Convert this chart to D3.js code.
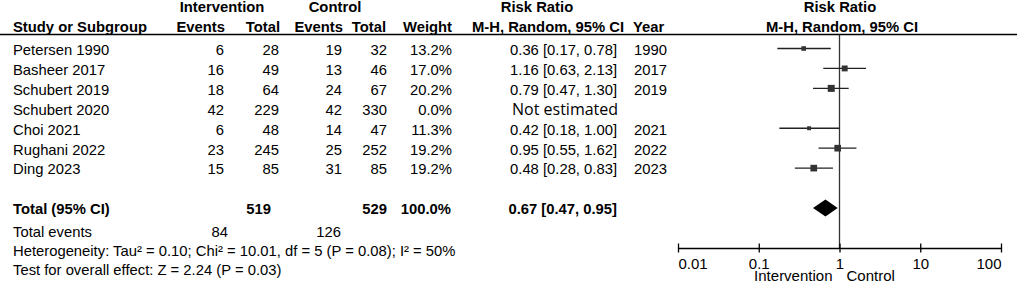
<!DOCTYPE html>
<html><head><meta charset="utf-8">
<script src="https://cdn.jsdelivr.net/npm/d3@7"></script>
<style>
body{margin:0;background:#fff;}
svg{display:block;font-family:"Liberation Sans",Arial,sans-serif;}
</style></head>
<body><svg id="c" width="1017" height="287"></svg>
<script>
const studies = ["Petersen 1990","Basheer 2017","Schubert 2019","Schubert 2020","Choi 2021","Rughani 2022","Ding 2023"];
const intEvents = [6,16,18,42,6,23,15];
const intTotal = [28,49,64,229,48,245,85];
const ctlEvents = [19,13,24,42,14,25,31];
const ctlTotal = [32,46,67,330,47,252,85];
const weights = [13.2,17.0,20.2,0.0,11.3,19.2,19.2];
const rr = [0.36,1.16,0.79,null,0.42,0.95,0.48];
const lo = [0.17,0.63,0.47,null,0.18,0.55,0.28];
const hi = [0.78,2.13,1.30,null,1.00,1.62,0.83];
const years = ["1990","2017","2019","","2021","2022","2023"];
const totalRow = {intTotal:519, ctlTotal:529, weight:"100.0%", rr:0.67, lo:0.47, hi:0.95};
const totalEvents = {intEvents:84, ctlEvents:126};
const heterogeneity = "Heterogeneity: Tau\u00b2 = 0.10; Chi\u00b2 = 10.01, df = 5 (P = 0.08); I\u00b2 = 50%";
const overallTest = "Test for overall effect: Z = 2.24 (P = 0.03)";
const tickValues = [0.01,0.1,1,10,100];
const tickLabels = ["0.01","0.1","1","10","100"];

const svg = d3.select("#c");
const FS = 14.8;
const x = d3.scaleLog().domain([0.01,100]).range([678,1001]);
const y = d3.scaleLinear().domain([0,8]).range([49.5,209]);
const sq = d3.scaleLinear().domain([0,20.2]).range([0,7]);
const f2 = d3.format(".2f");
const ciText = (a,b,c)=> `${f2(a)} [${f2(b)}, ${f2(c)}]`;

function txt(xp, yc, s, anchor, bold, size){
  return svg.append("text").attr("x",xp).attr("y",yc).attr("dy","0.36em")
    .attr("text-anchor",anchor||"start").attr("font-size",size||FS)
    .attr("font-weight",bold?"bold":"normal").attr("fill","#000").text(s);
}

// headers
txt(222,7,"Intervention","middle",true);
txt(335,7,"Control","middle",true);
txt(537,7,"Risk Ratio","middle",true);
txt(840,7,"Risk Ratio","middle",true);
txt(13,27,"Study or Subgroup","start",true);
txt(225,27,"Events","end",true);
txt(280,27,"Total","end",true);
txt(343,27,"Events","end",true);
txt(386,27,"Total","end",true);
txt(452,27,"Weight","end",true);
txt(472,27,"M-H, Random, 95% CI","start",true);
txt(633,27,"Year","start",true);
txt(842,27,"M-H, Random, 95% CI","middle",true);
svg.append("line").attr("x1",0).attr("x2",1017).attr("y1",34.5).attr("y2",34.5)
  .attr("stroke","#000").attr("stroke-width",1.5);

// study rows
studies.forEach((s,i)=>{
  const yc = y(i);
  txt(13,yc,s);
  txt(224,yc,intEvents[i],"end");
  txt(279,yc,intTotal[i],"end");
  txt(342,yc,ctlEvents[i],"end");
  txt(387,yc,ctlTotal[i],"end");
  txt(452,yc,weights[i].toFixed(1)+"%","end");
  if(rr[i]==null){
    svg.append("text").attr("x",512).attr("y",yc).attr("dy","0.36em")
      .attr("font-family","'Open Sans','Noto Sans',sans-serif").attr("font-size",16).text("Not estimated");
  } else {
    txt(617,yc,ciText(rr[i],lo[i],hi[i]),"end");
    txt(634,yc,years[i],"start");
  }
});

// totals
const yt = y(8);
txt(13,yt,"Total (95% CI)","start",true);
txt(271,yt,totalRow.intTotal,"end",true);
txt(387,yt,totalRow.ctlTotal,"end",true);
txt(451,yt,totalRow.weight,"end",true);
txt(617,yt,ciText(totalRow.rr,totalRow.lo,totalRow.hi),"end",true);
txt(13,232,"Total events");
txt(228,232,totalEvents.intEvents,"end");
txt(341,232,totalEvents.ctlEvents,"end");
txt(13,251,heterogeneity);
txt(13,270,overallTest);

// forest plot
const axisY = 248;
svg.append("line").attr("x1",x(1)).attr("x2",x(1)).attr("y1",34.5).attr("y2",axisY)
  .attr("stroke","#333").attr("stroke-width",1.3);

const plotIdx = studies.map((s,i)=>i).filter(i=>rr[i]!=null);
svg.append("g").selectAll("line").data(plotIdx).join("line")
  .attr("x1",i=>x(lo[i])).attr("x2",i=>x(hi[i]))
  .attr("y1",i=>y(i)-1).attr("y2",i=>y(i)-1)
  .attr("stroke","#222").attr("stroke-width",1.3);
svg.append("g").selectAll("rect").data(plotIdx).join("rect")
  .attr("x",i=>x(rr[i])-sq(weights[i])/2).attr("y",i=>y(i)-1-sq(weights[i])/2)
  .attr("width",i=>sq(weights[i])).attr("height",i=>sq(weights[i]))
  .attr("fill","#333");

// diamond
const dh = 8.5;
svg.append("path")
  .attr("d",`M${x(totalRow.lo)},${yt-1}L${x(totalRow.rr)},${yt-1-dh}L${x(totalRow.hi)},${yt-1}L${x(totalRow.rr)},${yt-1+dh}Z`)
  .attr("fill","#000");

// axis
const axis = d3.axisBottom(x).tickValues(tickValues)
  .tickFormat((d,i)=>tickLabels[i]).tickSizeOuter(0).tickSizeInner(4.5).tickPadding(5.5);
const ag = svg.append("g").attr("transform",`translate(0,${axisY})`).call(axis);
ag.select(".domain").attr("stroke","#000").attr("stroke-width",1.3);
ag.selectAll(".tick line").attr("y1",-4.5).attr("y2",4.5).attr("stroke","#000").attr("stroke-width",1.3);
ag.selectAll(".tick text").attr("font-size",15).attr("font-family","'Liberation Sans',Arial,sans-serif")
  .attr("fill","#000")
  .attr("text-anchor",(d,i)=> i===0?"start":(i===tickValues.length-1?"end":"middle"));
txt(x(1)-7,276,"Intervention","end",false,15);
txt(x(1)+7,276,"Control","start",false,15);
</script></body></html>
